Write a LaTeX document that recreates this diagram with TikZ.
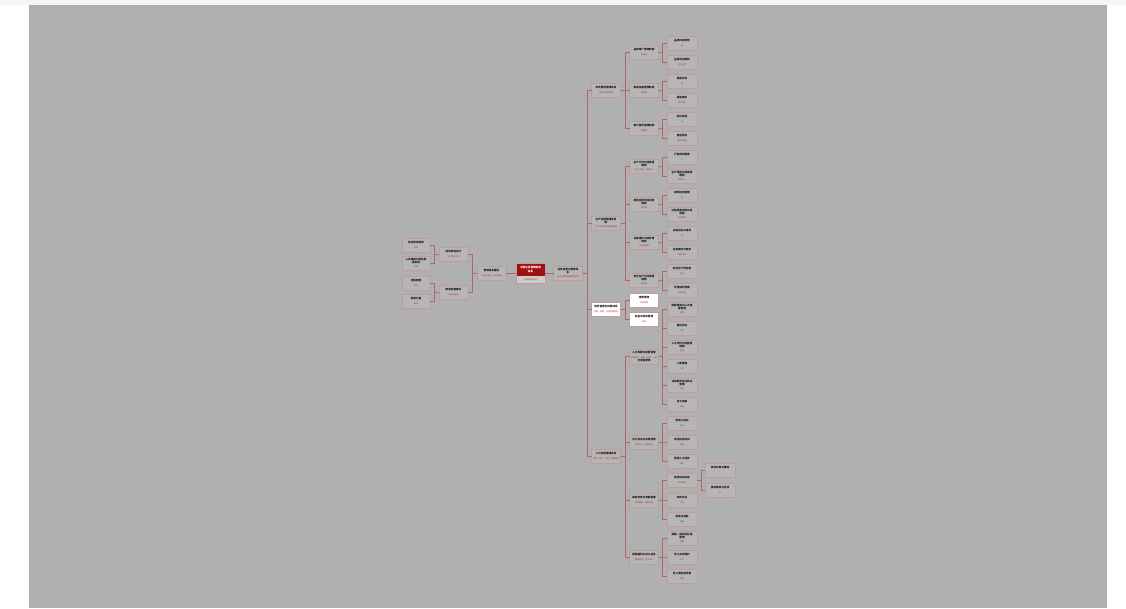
\documentclass[tikz,border=0pt]{standalone}
\usepackage{fontspec}
\newfontfamily\cjk{Noto Sans CJK SC}
\definecolor{bgc}{HTML}{B0B0B0}
\definecolor{nfill}{HTML}{B6B6B6}
\definecolor{dred}{HTML}{8A2020}
\definecolor{tred}{HTML}{C0302C}
\definecolor{nedge}{HTML}{C09C9C}
\definecolor{cline}{HTML}{A86A6A}
\definecolor{rootred}{HTML}{A01212}
\tikzset{
  topbar/.style={draw=dred, line width=1pt},
  nd/.style={rectangle, draw=nedge, line width=0.5pt, fill=nfill, outer sep=0pt,
    minimum width=29pt, minimum height=14pt, inner sep=0pt, align=center,
    font=\cjk\bfseries\fontsize{2.6}{3.1}\selectfont, text=black!90,
    append after command={\pgfextra{\draw[topbar] ([yshift=-0.5pt]\tikzlastnode.north west) -- ([yshift=-0.5pt]\tikzlastnode.north east);}}},
  wnd/.style={nd, fill=white},
  nw/.style={nd, minimum width=30pt},
  nl/.style={nd, minimum width=28pt},
  rootbox/.style={rectangle, draw=nedge, line width=0.5pt, fill=black!20, outer sep=0pt,
    minimum width=29pt, minimum height=20pt, inner sep=0pt,
    path picture={\fill[rootred] (path picture bounding box.north west) rectangle ([yshift=-13pt]path picture bounding box.north east);}},
  conn/.style={draw=cline, line width=0.5pt},
  lbl/.style={inner sep=0pt, align=center, font=\cjk\bfseries\fontsize{2.6}{3.1}\selectfont},
}
\newcommand\T[2]{#1\\[1.2pt]\mdseries\color{tred}\fontsize{2}{2.5}\selectfont #2}
\newcommand\eR[3]{\draw[conn] (#1.east) -- (#1.east -| #3) |- (#2.west);}
\newcommand\eL[3]{\draw[conn] (#1.west) -- (#1.west -| #3) |- (#2.east);}
\begin{document}
\begin{tikzpicture}[x=1pt,y=-1pt]
\useasboundingbox (0,0) rectangle (1126,608);
\fill[white] (0,0) rectangle (1126,608);
\fill[black!4] (0,0) rectangle (1126,5);
\fill[bgc] (29,5) rectangle (1107,608);

% bus coordinates
\coordinate (b0) at (587,0);
\coordinate (b1) at (625,0);
\coordinate (b2) at (662.5,0);
\coordinate (b3) at (701,0);
\coordinate (bl1) at (472.5,0);
\coordinate (bl2) at (434.5,0);

% root
\node[rootbox] (root) at (530.5,273) {};
\node[lbl, text=white] (roott) at ([yshift=-6.5pt]root.north) {中国企业管理制度\\体系};
\node[lbl, text=tred, font=\cjk\fontsize{2}{2.5}\selectfont] (roots) at ([yshift=3.4pt]root.south) {（总体框架说明）};

% left side
\node[nd] (L1) at (491.5,273) {\T{管理体系建设}{规划与实施·总体部署}};
\node[nd] (L2a) at (453.5,254) {\T{组织架构设计}{部门职责划分}};
\node[nd] (L2b) at (453.5,292) {\T{制度流程建设}{标准化管理}};
\node[nl] (L3a) at (416,245) {\T{岗位职责说明}{定岗}};
\node[nl] (L3b) at (416,263) {\T{人员编制与岗位配\\置说明}{定编}};
\node[nl] (L3c) at (416,283) {\T{流程梳理}{优化}};
\node[nl] (L3d) at (416,301) {\T{制度汇编}{成册}};

% right level 1
\node[nd] (R1) at (568,273) {\T{业务运营与管理体\\系}{各业务模块管理制度说明}};

% level 2
\node[nd] (A) at (606,90) {\T{市场营销管理体系}{品牌与渠道管理}};
\node[nd] (B) at (606,223) {\T{生产运营管理体系\\制}{生产与质量控制管理制度}};
\node[wnd] (C) at (606,309) {\T{财务管理与核算体系}{预算·核算·资金管理制度}};
\node[nd] (D) at (606,456) {\T{人力资源管理体系}{招聘·培训·绩效·薪酬管理}};

% level 3
\node[nd] (A1) at (644,52) {\T{品牌推广管理制度}{品牌部}};
\node[nd] (A2) at (644,90) {\T{渠道拓展管理制度}{渠道部}};
\node[nd] (A3) at (644,128) {\T{客户服务管理制度}{客服部}};
\node[nd] (B1) at (644,166) {\T{生产计划与调度管\\理制}{生产计划部·调度中心}};
\node[nd] (B2) at (644,204) {\T{质量控制与检验管\\理制}{质检部}};
\node[nd] (B3) at (644,242) {\T{设备维护与保养管\\理制}{设备管理部}};
\node[nd] (B4) at (644,280) {\T{安全生产与环境管\\理制}{安环部}};
\node[wnd] (C1) at (644,300) {\T{预算管理}{年度预算}};
\node[wnd] (C2) at (644,319) {\T{资金与成本管理}{成本}};
\node[nd, minimum height=15pt] (D1) at (644,356.5) {\T{人才招聘与配置管理}{招聘需求·面试·录用·入职\\全流程管理}};
\node[nd] (D2) at (644,442) {\T{员工培训与发展管理}{培训中心·发展规划}};
\node[nd] (D3) at (644,500) {\T{绩效考核与激励管理}{绩效管理·激励机制}};
\node[nd] (D4) at (644,557) {\T{薪酬福利与员工关系}{薪酬管理·员工关系}};

% level 4
\node[nw] (a11) at (682,43) {\T{品牌形象规范}{品}};
\node[nw] (a12) at (682,62) {\T{品牌活动策划}{活动方案}};
\node[nw] (a21) at (682,81) {\T{渠道开发}{新}};
\node[nw] (a22) at (682,100) {\T{渠道维护}{客户关系}};
\node[nw] (a31) at (682,119) {\T{投诉处理}{诉}};
\node[nw] (a32) at (682,138) {\T{售后回访}{满意度调查}};
\node[nw] (b11) at (682,157) {\T{产能规划管理}{产}};
\node[nw] (b12) at (682,176) {\T{生产排程与调度管\\理制}{调度中心}};
\node[nw] (b21) at (682,195) {\T{来料检验管理}{检}};
\node[nw] (b22) at (682,214) {\T{过程质量控制与检\\验制}{品质管理}};
\node[nw] (b31) at (682,233) {\T{设备点检与保养}{检}};
\node[nw] (b32) at (682,252) {\T{设备维修与更新}{维修记录}};
\node[nw] (b41) at (682,271) {\T{安全生产责任制}{安全}};
\node[nw] (b42) at (682,290) {\T{环境保护管理}{环保台账}};
\node[nw] (d11) at (682,309) {\T{招聘渠道与人才储\\备管理}{招聘}};
\node[nw] (d12) at (682,328) {\T{面试评估}{评估}};
\node[nw] (d13) at (682,347) {\T{人才测评与选拔管\\理制}{选拔}};
\node[nw] (d14) at (682,366) {\T{入职管理}{入职}};
\node[nw] (d15) at (682,385) {\T{试用期考核与转正\\管理}{考核}};
\node[nw] (d16) at (682,404) {\T{员工档案}{档案}};
\node[nw] (d21) at (682,423) {\T{新员工培训}{培训}};
\node[nw] (d22) at (682,442) {\T{岗位技能培训}{技能}};
\node[nw] (d23) at (682,461) {\T{管理人才培养}{培养}};
\node[nw] (d31) at (682,480) {\T{绩效目标设定}{目标管理}};
\node[nw] (d32) at (682,500) {\T{绩效评估}{评估}};
\node[nw] (d33) at (682,519) {\T{奖惩与激励}{激励}};
\node[nw] (d41) at (682,538) {\T{薪酬、福利及社保\\管理}{薪酬}};
\node[nw] (d42) at (682,557) {\T{员工关系维护}{关系}};
\node[nw] (d43) at (682,576) {\T{员工满意度调查}{调查}};

% level 5
\node[nw] (e1) at (720,470) {\T{目标分解与跟踪}{分}};
\node[nw] (e2) at (720,490) {\T{绩效面谈与反馈}{反}};

% connectors
\draw[conn] (root.west) -- (L1.east);
\draw[conn] (root.east) -- (R1.west);
\eL{L1}{L2a}{bl1} \eL{L1}{L2b}{bl1}
\eL{L2a}{L3a}{bl2} \eL{L2a}{L3b}{bl2}
\eL{L2b}{L3c}{bl2} \eL{L2b}{L3d}{bl2}
\foreach \c in {A,B,C,D} {\eR{R1}{\c}{b0}}
\foreach \c in {A1,A2,A3} {\eR{A}{\c}{b1}}
\foreach \c in {B1,B2,B3,B4} {\eR{B}{\c}{b1}}
\foreach \c in {C1,C2} {\eR{C}{\c}{b1}}
\foreach \c in {D1,D2,D3,D4} {\eR{D}{\c}{b1}}
\foreach \p/\c in {A1/a11,A1/a12,A2/a21,A2/a22,A3/a31,A3/a32,B1/b11,B1/b12,B2/b21,B2/b22,B3/b31,B3/b32,B4/b41,B4/b42,D1/d11,D1/d12,D1/d13,D1/d14,D1/d15,D1/d16,D2/d21,D2/d22,D2/d23,D3/d31,D3/d32,D3/d33,D4/d41,D4/d42,D4/d43} {\eR{\p}{\c}{b2}}
\eR{d31}{e1}{b3} \eR{d31}{e2}{b3}
\end{tikzpicture}
\end{document}
